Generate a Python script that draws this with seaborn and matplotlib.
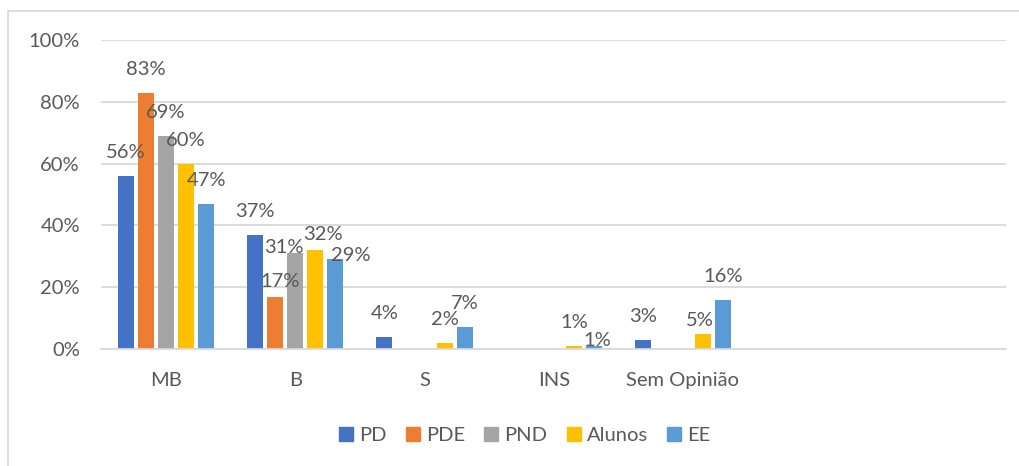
import matplotlib
matplotlib.use('Agg')
import matplotlib.pyplot as plt
import seaborn as sns
import pandas as pd
from matplotlib.lines import Line2D
from matplotlib.ticker import FuncFormatter

# data
categories = ['MB', 'B', 'S', 'INS', 'Sem Opinião']
series = ['PD', 'PDE', 'PND', 'Alunos', 'EE']
pd_vals = [56, 37, 4, 0, 3]
pde_vals = [83, 17, 0, 0, 0]
pnd_vals = [69, 31, 0, 0, 0]
alunos_vals = [60, 32, 2, 1, 5]
ee_vals = [47, 29, 7, 1, 16]

colors = ['#4472C4', '#ED7D31', '#A5A5A5', '#FFC000', '#5B9BD5']
TEXT = '#595959'
GRID = '#D9D9D9'
FS = 14.5

# labels that Excel nudged to avoid collisions: (dx px, gap above bar px)
label_nudge = {
    ('PDE', 'B'): (5, 10),
    ('PND', 'B'): (-11, 0),
    ('Alunos', 'B'): (8, 10),
    ('EE', 'B'): (15, -2),
    ('EE', 'INS'): (3, 0),
    ('Alunos', 'Sem Opinião'): (-3, 8),
}

rows = []
for name, vals in zip(series, [pd_vals, pde_vals, pnd_vals, alunos_vals, ee_vals]):
    for cat, v in zip(categories, vals):
        rows.append({'cat': cat, 'serie': name, 'valor': v})
df = pd.DataFrame(rows)

sns.set_style('white')
plt.rcParams['font.family'] = ['Lato', 'DejaVu Sans']

fig = plt.figure(figsize=(10.19, 4.66), dpi=100)
ax = fig.add_axes([0.0996, 0.251, 0.8876, 0.663])

sns.barplot(data=df, x='cat', y='valor', hue='serie', order=categories,
            hue_order=series, palette=colors, saturation=1, width=0.775,
            gap=0.2, linewidth=0, ax=ax, legend=True)

# data labels
px = 72 / 100  # pixels -> points
for name, cont in zip(series, ax.containers):
    for cat, bar in zip(categories, cont):
        h = bar.get_height()
        if h <= 0:
            continue
        dx, gap = label_nudge.get((name, cat), (0, 18))
        ax.annotate(f'{h:.0f}%', (bar.get_x() + bar.get_width() / 2, h),
                    xytext=(dx * px, gap * px), textcoords='offset points',
                    ha='center', va='baseline', fontsize=FS, color=TEXT)

ax.set_xlim(-0.5, 6.5)
ax.set_ylim(0, 100)
ax.set_yticks([0, 20, 40, 60, 80, 100])
ax.yaxis.set_major_formatter(FuncFormatter(lambda v, p: f'{v:.0f}%'))
ax.set_xlabel('')
ax.set_ylabel('')
ax.grid(axis='y', color=GRID, linewidth=1.3)
ax.set_axisbelow(True)
for s in ['top', 'right', 'left']:
    ax.spines[s].set_visible(False)
ax.spines['bottom'].set_color(GRID)
ax.spines['bottom'].set_linewidth(1.3)
ax.tick_params(axis='both', length=0, labelsize=FS, labelcolor=TEXT)
ax.tick_params(axis='y', pad=15.5)
ax.tick_params(axis='x', pad=16.5)

ax.legend_.remove()
handles = [plt.Rectangle((0, 0), 1, 1, color=c) for c in colors]
fig.legend(handles, series, loc='center', bbox_to_anchor=(0.515, 0.066),
           ncol=5, frameon=False, fontsize=FS, handlelength=0.7,
           handleheight=0.7, handletextpad=0.3, columnspacing=0.95,
           labelcolor=TEXT)

# chart frame
fig.add_artist(Line2D([8 / 1019, 8 / 1019], [0, 1 - 11 / 466],
                      transform=fig.transFigure, color=GRID, linewidth=1.3))
fig.add_artist(Line2D([8 / 1019, 1], [1 - 11 / 466, 1 - 11 / 466],
                      transform=fig.transFigure, color=GRID, linewidth=1.3))

fig.savefig('out.png', dpi=100)
